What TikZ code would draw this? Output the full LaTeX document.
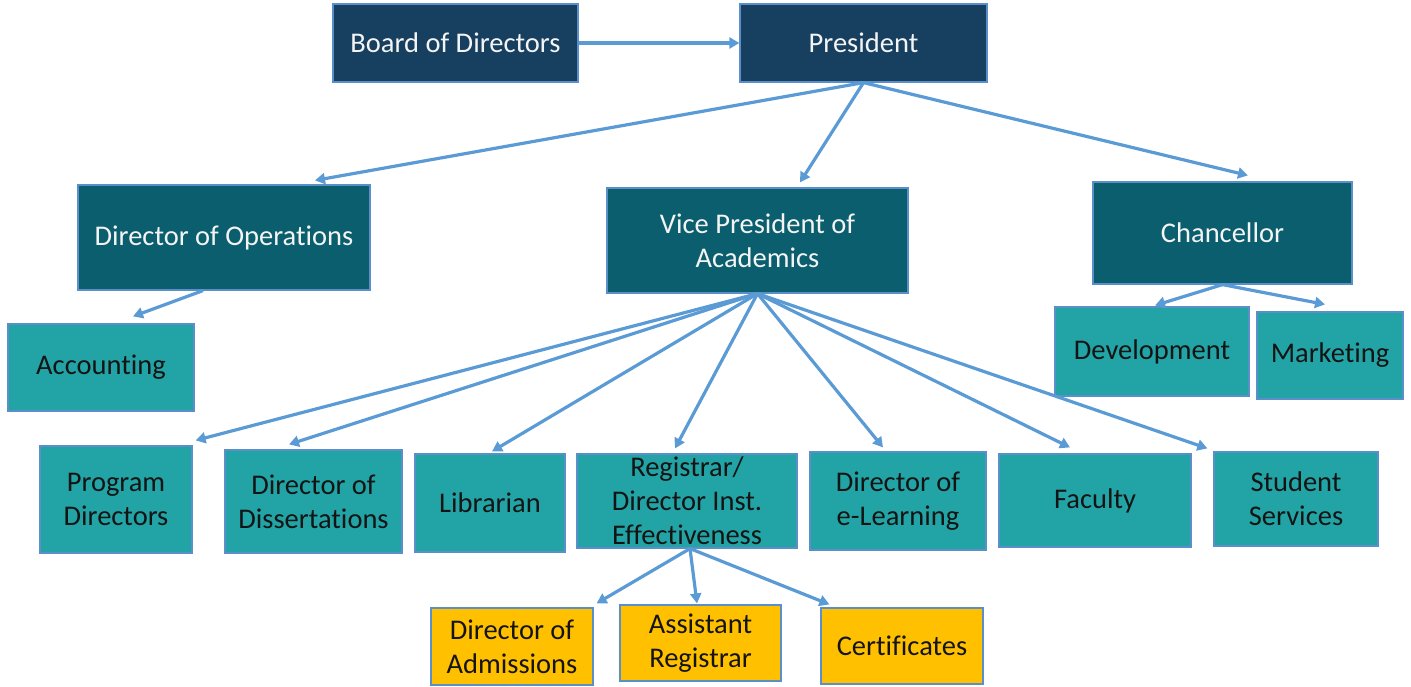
\documentclass[tikz,border=0pt]{standalone}
\usepackage{fontspec}
\setmainfont[Ligatures=NoCommon]{Carlito}
\usetikzlibrary{arrows.meta,calc}
\definecolor{navyc}{HTML}{173F5F}
\definecolor{darkteal}{HTML}{0A5E6E}
\definecolor{tealc}{HTML}{22A4A6}
\definecolor{goldc}{HTML}{FFC000}
\definecolor{edgec}{HTML}{5B8FC9}
\definecolor{arrowc}{HTML}{5B9BD5}
\definecolor{lighttext}{HTML}{F4F4F4}
\definecolor{darktext}{HTML}{141414}
\tikzset{
  box/.style={draw=edgec, line width=1.2pt, rectangle, align=center, inner sep=0pt,
    font=\fontsize{28.5}{34}\selectfont},
  topbox/.style={box, fill=navyc, text=lighttext},
  midbox/.style={box, fill=darkteal, text=lighttext},
  unitbox/.style={box, fill=tealc, text=darktext},
  goldbox/.style={box, fill=goldc, text=darktext},
  link/.style={draw=arrowc, line width=3.2pt, -{Triangle[length=10pt,width=11pt]}}
}
\begin{document}
\begin{tikzpicture}[x=1pt,y=-1pt]
\useasboundingbox (0,0) rectangle (1411,686);
% top level
\node[topbox, minimum width=245, minimum height=78] (board) at (455.5,43) {Board of Directors};
\node[topbox, minimum width=247, minimum height=78] (pres) at (863.5,43) {President};
% second level
\node[midbox, minimum width=292, minimum height=105] (dops) at (224,237.5) {Director of Operations};
\node[midbox, minimum width=301, minimum height=105] (vp) at (757.5,240.5) {Vice President of\\Academics};
\node[midbox, minimum width=259, minimum height=102] (chan) at (1222.5,233) {Chancellor};
% units
\node[unitbox, minimum width=186, minimum height=87] (acc) at (101,367.5) {Accounting};
\node[unitbox, minimum width=194, minimum height=89] (dev) at (1152,351.5) {Development};
\node[unitbox, minimum width=146, minimum height=87] (mkt) at (1330,355.5) {Marketing};
\node[unitbox, minimum width=152, minimum height=107] (prog) at (116,499.5) {Program\\Directors};
\node[unitbox, minimum width=177, minimum height=103] (diss) at (313.5,501.5) {Director of\\Dissertations};
\node[unitbox, minimum width=150, minimum height=98] (lib) at (490,503) {Librarian};
\node[unitbox, minimum width=220, minimum height=94] (reg) at (687,501) {Registrar/\\Director Inst.\\Effectiveness};
\node[unitbox, minimum width=176, minimum height=98] (elearn) at (898,501) {Director of\\e-Learning};
\node[unitbox, minimum width=192, minimum height=93] (fac) at (1095,500.5) {Faculty};
\node[unitbox, minimum width=164, minimum height=94] (stud) at (1296,499) {Student\\Services};
% registrar units
\node[goldbox, minimum width=162, minimum height=77] (adm) at (512,646.5) {Director of\\Admissions};
\node[goldbox, minimum width=161, minimum height=76] (asst) at (700.5,643) {Assistant\\Registrar};
\node[goldbox, minimum width=162, minimum height=76] (cert) at (902,646) {Certificates};
% connectors
\draw[link] (board.east) -- (pres.west);
\draw[link] (pres.south) -- ($(dops.north)+(91,-4)$);
\draw[link] (pres.south) -- ($(vp.north)+(42.5,-5)$);
\draw[link] (pres.south) -- ($(chan.north)+(25.5,-6)$);
\draw[link] ($(dops.south)+(-21,0)$) -- ($(acc.north)+(32,-7)$);
\draw[link] (vp.south) -- ($(prog.north east)+(3,-5)$);
\draw[link] (vp.south) -- ($(diss.north)+(-24.5,-5)$);
\draw[link] (vp.south) -- ($(lib.north)+(2,-2)$);
\draw[link] (vp.south) -- ($(reg.north)+(-12,-5)$);
\draw[link] (vp.south) -- ($(elearn.north)+(-15,-4)$);
\draw[link] (vp.south) -- ($(fac.north)+(-25,-6)$);
\draw[link] (vp.south) -- ($(stud.north west)+(-6,-3)$);
\draw[link] (chan.south) -- ($(dev.north)+(3,-1)$);
\draw[link] (chan.south) -- ($(mkt.north)+(-5,-7)$);
\draw[link] ($(reg.south)+(3,0)$) -- ($(adm.north east)+(3,-4)$);
\draw[link] ($(reg.south)+(3,0)$) -- ($(asst.north)+(-3.5,-1)$);
\draw[link] ($(reg.south)+(3,0)$) -- ($(cert.north west)+(9,-3)$);
\end{tikzpicture}
\end{document}
